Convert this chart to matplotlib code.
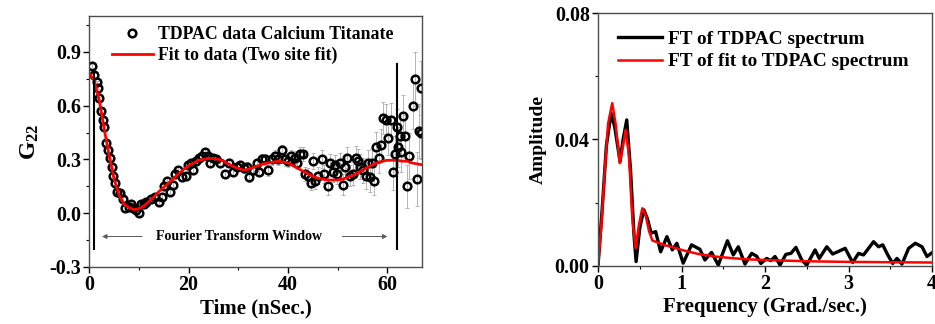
import numpy as np
import matplotlib
matplotlib.use('Agg')
import matplotlib.pyplot as plt
from matplotlib.ticker import MultipleLocator

plt.rcParams['font.family'] = 'Liberation Serif'
plt.rcParams['font.weight'] = 'bold'
plt.rcParams['axes.labelweight'] = 'bold'
plt.rcParams['mathtext.fontset'] = 'custom'
plt.rcParams['mathtext.rm'] = 'Liberation Serif:bold'
plt.rcParams['mathtext.it'] = 'Liberation Serif:bold'
plt.rcParams['mathtext.bf'] = 'Liberation Serif:bold'

# TDPAC data (time in ns, G22, error)
t_data = [0.5, 0.9, 1.5, 1.8, 2.0, 2.3, 2.8, 3.0, 3.4, 3.8, 4.2, 4.6, 4.8, 5.2, 5.6,
          6.2, 6.8, 7.2, 7.9, 8.3, 8.9, 9.5, 10.1, 10.5, 11.0, 11.5, 12.5, 13.2, 14.1,
          14.6, 15.0, 15.6, 16.2, 16.8, 17.2, 17.9, 18.6, 19.4, 19.9, 20.4, 20.9, 21.5,
          22.1, 22.7, 23.4, 24.0, 24.4, 25.0, 25.6, 26.3, 27.3, 28.2, 28.9, 29.7, 30.3,
          31.1, 31.8, 32.2, 32.9, 33.7, 34.2, 34.7, 35.4, 36.0, 36.7, 37.4, 38.1, 38.9,
          39.4, 40.1, 40.7, 41.4, 41.9, 42.4, 43.1, 43.4, 44.1, 44.6, 45.0, 45.4, 46.1,
          46.8, 47.2, 48.1, 48.5, 49.0, 49.5, 49.9, 50.5, 51.0, 51.5, 51.9, 52.5, 53.2,
          53.7, 54.2, 54.6, 55.2, 55.7, 56.2, 56.6, 57.0, 57.3, 57.7, 58.4, 58.7, 59.2,
          59.7, 60.1, 60.7, 61.1, 61.5, 61.9, 62.2, 62.6, 62.8, 63.2, 63.6, 64.0, 64.4,
          65.1, 65.6, 65.9, 66.4, 66.8, 66.9]
g_data = [0.82, 0.77, 0.73, 0.70, 0.64, 0.57, 0.52, 0.48, 0.39, 0.35, 0.31, 0.26, 0.21, 0.17, 0.12,
          0.11, 0.08, 0.03, 0.035, 0.05, 0.03, 0.02, 0.00, 0.05, 0.05, 0.06, 0.08, 0.09, 0.06,
          0.09, 0.15, 0.18, 0.12, 0.16, 0.22, 0.24, 0.20, 0.21, 0.27, 0.28, 0.24, 0.29,
          0.31, 0.32, 0.34, 0.32, 0.28, 0.31, 0.30, 0.28, 0.22, 0.28, 0.23, 0.26, 0.27,
          0.25, 0.26, 0.20, 0.24, 0.28, 0.23, 0.30, 0.30, 0.24, 0.30, 0.32, 0.30, 0.35,
          0.30, 0.29, 0.32, 0.31, 0.28, 0.33, 0.33, 0.22, 0.21, 0.17, 0.29, 0.18, 0.21,
          0.30, 0.22, 0.15, 0.28, 0.23, 0.27, 0.22, 0.28, 0.16, 0.26, 0.31, 0.21, 0.22,
          0.31, 0.29, 0.26, 0.24, 0.21, 0.28, 0.20, 0.28, 0.18, 0.37, 0.31, 0.38, 0.53,
          0.52, 0.42, 0.52, 0.23, 0.33, 0.48, 0.37, 0.43, 0.34, 0.54, 0.43, 0.15, 0.32,
          0.60, 0.75, 0.19, 0.46, 0.70, 0.45]
g_err = [0.01, 0.01, 0.01, 0.01, 0.01, 0.01, 0.01, 0.01, 0.01, 0.01, 0.01, 0.01, 0.01, 0.01, 0.01,
         0.012, 0.012, 0.012, 0.012, 0.012, 0.012, 0.012, 0.012, 0.012, 0.012, 0.012, 0.015, 0.015, 0.015,
         0.015, 0.015, 0.015, 0.015, 0.015, 0.015, 0.015, 0.018, 0.018, 0.018, 0.018, 0.018, 0.018,
         0.02, 0.02, 0.02, 0.02, 0.02, 0.02, 0.02, 0.02, 0.022, 0.022, 0.022, 0.022, 0.022,
         0.025, 0.025, 0.025, 0.025, 0.025, 0.025, 0.03, 0.03, 0.03, 0.03, 0.03, 0.03, 0.03,
         0.035, 0.035, 0.035, 0.035, 0.035, 0.04, 0.04, 0.04, 0.04, 0.04, 0.045, 0.045, 0.045,
         0.05, 0.05, 0.05, 0.05, 0.055, 0.055, 0.055, 0.055, 0.06, 0.06, 0.06, 0.06, 0.065,
         0.065, 0.07, 0.07, 0.07, 0.075, 0.075, 0.08, 0.08, 0.08, 0.085, 0.085, 0.09, 0.09,
         0.09, 0.095, 0.095, 0.1, 0.1, 0.1, 0.11, 0.11, 0.11, 0.12, 0.12, 0.12, 0.13,
         0.13, 0.15, 0.15, 0.15, 0.15, 0.15]

# two site fit
t_fit = np.arange(0, 68)
g_fit = [0.78, 0.74, 0.63, 0.47, 0.32, 0.19, 0.10, 0.05, 0.03, 0.02, 0.025, 0.04, 0.065, 0.09,
         0.12, 0.145, 0.17, 0.195, 0.22, 0.245, 0.265, 0.28, 0.295, 0.30, 0.305, 0.305, 0.30,
         0.29, 0.275, 0.26, 0.25, 0.24, 0.245, 0.255, 0.265, 0.275, 0.28, 0.285, 0.29, 0.285,
         0.28, 0.265, 0.25, 0.235, 0.22, 0.205, 0.195, 0.19, 0.185, 0.185, 0.185, 0.19, 0.20,
         0.21, 0.225, 0.24, 0.255, 0.27, 0.28, 0.29, 0.295, 0.295, 0.295, 0.29, 0.29, 0.28,
         0.275, 0.27]

# FT of data
f_ft = [0.0, 0.05, 0.10, 0.156, 0.20, 0.264, 0.30, 0.344, 0.39, 0.43, 0.456, 0.50, 0.548,
        0.59, 0.636, 0.69, 0.75, 0.825, 0.89, 0.944, 1.02, 1.12, 1.22, 1.28, 1.36, 1.44,
        1.55, 1.62, 1.68, 1.76, 1.84, 1.90, 1.95, 2.02, 2.07, 2.12, 2.18, 2.25, 2.31, 2.37,
        2.44, 2.50, 2.60, 2.65, 2.74, 2.81, 2.87, 2.96, 3.05, 3.12, 3.18, 3.30, 3.36, 3.41,
        3.47, 3.53, 3.58, 3.64, 3.72, 3.80, 3.88, 3.94, 4.0]
a_ft = [0.0, 0.018, 0.038, 0.0483, 0.044, 0.033, 0.040, 0.0462, 0.030, 0.010, 0.0013, 0.012,
        0.0177, 0.015, 0.0103, 0.0108, 0.0044, 0.0092, 0.005, 0.0071, 0.0008, 0.0066, 0.0052,
        0.0018, 0.0042, 0.0002, 0.0079, 0.0034, 0.006, 0.0005, 0.0039, 0.003, 0.0007, 0.0023,
        0.0016, 0.0029, 0.0002, 0.0036, 0.0039, 0.0058, 0.0018, 0.0002, 0.005, 0.0023, 0.006,
        0.0037, 0.0044, 0.0055, 0.001, 0.0039, 0.0034, 0.0076, 0.006, 0.0066, 0.0034, 0.0007,
        0.0023, 0.0005, 0.0055, 0.0071, 0.006, 0.0029, 0.0041]

# FT of fit
f_fitft = [0.0, 0.04, 0.08, 0.12, 0.17, 0.21, 0.26, 0.30, 0.33, 0.37, 0.41, 0.45, 0.49, 0.53,
           0.57, 0.61, 0.65, 0.70, 0.80, 0.90, 1.0, 1.2, 1.4, 1.6, 1.8, 2.0, 2.5, 3.0, 3.5, 4.0]
a_fitft = [0.0, 0.013, 0.030, 0.045, 0.0515, 0.045, 0.0325, 0.038, 0.043, 0.035, 0.015, 0.0055,
           0.013, 0.0182, 0.016, 0.011, 0.008, 0.0075, 0.0065, 0.0058, 0.005, 0.0037, 0.0029,
           0.0024, 0.002, 0.0018, 0.0014, 0.0012, 0.0011, 0.001]

fig = plt.figure(figsize=(9.35, 3.24), dpi=100)

# left panel ##################################################################
ax1 = fig.add_axes([0.0955, 0.176, 0.3558, 0.7747])
ax1.errorbar(t_data, g_data, yerr=g_err, fmt='none', ecolor='0.7', elinewidth=0.7,
             capsize=1.5, capthick=0.7, zorder=1)
ax1.plot(t_data, g_data, 'o', mfc='none', mec='k', ms=5.5, mew=1.8,
         label='TDPAC data Calcium Titanate', zorder=2)
ax1.plot(t_fit, g_fit, 'r', lw=2, label='Fit to data (Two site fit)', zorder=3)
ax1.plot([1, 1], [-0.2, 0.8], 'k', lw=1.5, zorder=4)
ax1.plot([62, 62], [-0.2, 0.83], 'k', lw=1.5, zorder=4)
ax1.annotate('', xy=(2, -0.13), xytext=(11.2, -0.13),
             arrowprops=dict(arrowstyle='-|>', color='0.35', lw=0.7, mutation_scale=7))
ax1.annotate('', xy=(60.6, -0.13), xytext=(50.4, -0.13),
             arrowprops=dict(arrowstyle='-|>', color='0.35', lw=0.7, mutation_scale=7))
ax1.text(30.2, -0.13, 'Fourier Transform Window', fontsize=10, fontweight='bold',
         ha='center', va='center')
ax1.set_xlim(0, 67)
ax1.set_ylim(-0.3, 1.1)
ax1.xaxis.set_major_locator(MultipleLocator(20))
ax1.xaxis.set_minor_locator(MultipleLocator(10))
ax1.yaxis.set_major_locator(MultipleLocator(0.3))
ax1.yaxis.set_minor_locator(MultipleLocator(0.15))
ax1.yaxis.set_major_formatter(matplotlib.ticker.FormatStrFormatter('%.1f'))
ax1.set_xlabel('Time (nSec.)', fontsize=15, labelpad=2)
ax1.set_ylabel(r'$\mathbf{G_{22}}$', fontsize=17, labelpad=6)
ax1.legend(loc='upper left', bbox_to_anchor=(0.068, 0.96), frameon=False,
           prop={'weight': 'bold', 'size': 12.8},
           handlelength=2.3, handletextpad=0.3, labelspacing=0.22, borderpad=0,
           borderaxespad=0)

# right panel #################################################################
ax2 = fig.add_axes([0.6396, 0.180, 0.3572, 0.779])
ax2.plot(f_ft, a_ft, 'k', lw=2.4, label='FT of TDPAC spectrum')
ax2.plot(f_fitft, a_fitft, 'r', lw=1.8, label='FT of fit to TDPAC spectrum')
ax2.set_xlim(0, 4)
ax2.set_ylim(0, 0.08)
ax2.xaxis.set_major_locator(MultipleLocator(1))
ax2.xaxis.set_minor_locator(MultipleLocator(0.5))
ax2.yaxis.set_major_locator(MultipleLocator(0.04))
ax2.yaxis.set_minor_locator(MultipleLocator(0.02))
ax2.yaxis.set_major_formatter(matplotlib.ticker.FormatStrFormatter('%.2f'))
ax2.set_xlabel('Frequency (Grad./sec.)', fontsize=15, labelpad=2)
ax2.set_ylabel('Amplitude', fontsize=14, labelpad=6)
ax2.legend(loc='upper left', bbox_to_anchor=(0.06, 0.932), frameon=False,
           prop={'weight': 'bold', 'size': 13.9},
           handlelength=2.3, handletextpad=0.3, labelspacing=0.25, borderpad=0,
           borderaxespad=0)

for ax in (ax1, ax2):
    ax.tick_params(which='major', direction='out', length=4, width=1, labelsize=14.4, pad=2)
    ax.tick_params(which='minor', direction='out', length=2.5, width=0.8)
    for lab in ax.get_xticklabels() + ax.get_yticklabels():
        lab.set_fontweight('bold')
    for s in ax.spines.values():
        s.set_linewidth(1)
        s.set_color('0.3')

fig.savefig('out.png', dpi=100)
